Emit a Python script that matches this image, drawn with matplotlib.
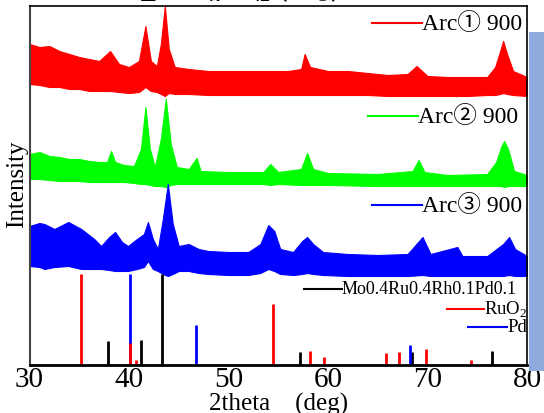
import numpy as np
import matplotlib.pyplot as plt
from matplotlib.lines import Line2D
from matplotlib.patches import Rectangle

plt.rcParams['font.family'] = ['Liberation Serif', 'Noto Sans CJK SC', 'DejaVu Sans']
plt.rcParams['mathtext.fontset'] = 'custom'
plt.rcParams['mathtext.rm'] = 'Liberation Serif'

# XRD traces: 2theta, upper and lower edge of the noisy band
# (intensity in arbitrary units, traces already offset)
arc1_x = [30, 31, 32, 33, 34, 35, 36, 37, 38.1, 39, 40, 41, 41.65, 42.2, 42.8, 43.2, 43.6,
          44.0, 44.6, 46, 48, 50, 52, 54, 56, 57.3, 57.65, 58.2, 60, 62, 64, 66, 68, 68.9,
          70, 72, 74, 76, 76.8, 77.3, 77.6, 78.0, 78.6, 80]
arc1_hi = [323, 320, 321, 316, 313, 310, 308, 306, 316, 303, 300, 306, 341, 306, 301, 323, 361,
           318, 300, 298, 296, 296, 296, 296, 296, 298, 313, 300, 296, 296, 294, 292, 293, 301,
           291, 290, 290, 290, 300, 316, 326, 313, 296, 290]
arc1_lo = [283, 282, 280, 280, 278, 278, 276, 276, 276, 275, 274, 275, 280, 276, 275, 273, 271,
           274, 273, 273, 272, 272, 272, 272, 272, 272, 272, 272, 272, 272, 272, 271, 271, 271,
           271, 271, 271, 272, 272, 273, 274, 273, 272, 271]

arc2_x = [30, 31, 32, 33, 34, 35, 36, 37, 37.8, 38.2, 38.6, 39.5, 40.5, 41.2, 41.65, 42.1, 42.6,
          43.2, 43.7, 44.2, 44.8, 46, 46.8, 47.2, 50, 53.5, 54.2, 55, 57.3, 57.9, 58.5, 60, 65,
          68.5, 69.1, 69.7, 72, 76, 76.9, 77.4, 77.7, 78.1, 78.7, 80]
arc2_hi = [213, 215, 211, 210, 208, 208, 206, 205, 205, 216, 205, 202, 201, 218, 260, 218, 200,
           228, 268, 223, 200, 198, 209, 196, 195, 195, 203, 195, 198, 214, 198, 194, 193,
           196, 207, 195, 192, 193, 205, 220, 226, 218, 196, 192]
arc2_lo = [188, 188, 187, 186, 186, 186, 185, 185, 185, 185, 185, 185, 184, 183, 183, 182, 181,
           181, 180, 182, 183, 183, 183, 183, 183, 183, 182, 183, 182, 182, 182, 182, 181,
           181, 181, 181, 181, 181, 181, 181, 180, 181, 181, 181]

arc3_x = [30, 31, 31.5, 32.5, 33.9, 35.2, 36.5, 37.2, 38.0, 38.6, 39.3, 39.9, 40.8, 41.5, 41.9,
          42.4, 42.9, 43.4, 43.9, 44.4, 45, 46, 47, 48, 50, 52, 53.2, 54.0, 54.6, 55.2, 56.5,
          57.4, 57.9, 58.5, 59.5, 62, 65, 68, 69.5, 70.3, 73, 73.5, 76, 77.6, 78.2, 78.8, 80]
arc3_hi = [141, 144, 143, 138, 145, 138, 128, 121, 130, 135, 125, 121, 128, 133, 145,
           128, 118, 148, 183, 143, 121, 123, 118, 116, 115, 115, 123, 142, 136, 118, 115,
           126, 130, 123, 115, 113, 112, 113, 130, 113, 120, 111, 111, 123, 130, 118, 111]
arc3_lo = [101, 100, 98, 100, 101, 98, 98, 98, 97, 96, 96, 96, 98, 100, 106,
           98, 96, 93, 91, 93, 96, 96, 94, 93, 92, 92, 94, 98, 96, 93, 92,
           93, 94, 93, 92, 91, 91, 91, 92, 91, 91, 91, 91, 91, 92, 91, 91]

# reference patterns (peak position, relative height)
alloy_pos = [37.9, 41.18, 43.3, 57.2, 68.47, 76.53]
alloy_int = [26.4, 27, 92.7, 14.6, 15.3, 15.6]
ruo2_pos = [35.16, 40.1, 40.68, 54.5, 58.17, 59.6, 65.85, 67.17, 69.83, 74.37]
ruo2_int = [92.7, 24, 7, 63, 16, 9.7, 13.9, 14.9, 18.4, 7.3]
pd_pos = [40.1, 46.77, 68.29]
pd_int = [92.7, 42, 21.9]

W, H = 544, 414
fig = plt.figure(figsize=(W / 100, H / 100), dpi=100)
ax = fig.add_axes([29.5 / W, 1 - 366 / H, (527 - 29.5) / W, (366 - 7) / H])


def fx(px):
    return px / W


def fy(py):
    return 1 - py / H


for xs, hi, lo, col in [(arc1_x, arc1_hi, arc1_lo, '#ff0000'),
                        (arc2_x, arc2_hi, arc2_lo, '#00ff00'),
                        (arc3_x, arc3_hi, arc3_lo, '#0000ff')]:
    ax.fill_between(xs, lo, hi, color=col, lw=0.8, edgecolor=col)

ax.vlines(alloy_pos, 0, alloy_int, colors='black', lw=2)
ax.vlines(pd_pos, 0, pd_int, colors='#0000ff', lw=2)
ax.vlines(ruo2_pos, 0, ruo2_int, colors='#ff0000', lw=2)

ax.set_xlim(30, 80)
ax.set_ylim(2, 361)
ax.set_yticks([])
ax.set_xticks([30, 40, 50, 60, 70, 80])
ax.tick_params(axis='x', length=0, labelsize=21, pad=1)
for s in ['top', 'right']:
    ax.spines[s].set_linewidth(1.2)
ax.spines['bottom'].set_linewidth(2)
ax.spines['left'].set_color('#444444')
ax.spines['left'].set_linewidth(1.5)

fig.text(fx(279), fy(404), '2theta\u3000(deg)', fontsize=18, ha='center', va='center')
fig.text(fx(17), fy(184), 'Intensity', fontsize=18, rotation=90, ha='center', va='center')

# hand-placed legend labels
labels = [('Arc\u2460 900', '#ff0000', 372, 422, 24, 17),
          ('Arc\u2461 900', '#00ff00', 368, 418, 117, 17),
          ('Arc\u2462 900', '#0000ff', 372, 422, 206, 17),
          ('Mo0.4Ru0.4Rh0.1Pd0.1', 'black', 304, 342, 290, 13),
          ('RuO$_2$', '#ff0000', 447, 484, 310, 13.5),
          ('Pd', '#0000ff', 468, 507, 328, 13.5)]
for txt, col, x0, x1, py, fs in labels:
    fig.add_artist(Line2D([fx(x0), fx(x1)], [fy(py), fy(py)], color=col, lw=1.5))
    fig.text(fx(x1), fy(py), txt, fontsize=fs, ha='left', va='center')

# cropped caption and side bar from the screenshot
fig.text(fx(244), fy(-5), '图\u3000SEM像200倍（Arc\u2462）', fontsize=12, fontweight='bold',
         ha='center', va='center', family=['Noto Sans CJK SC', 'DejaVu Sans'])
fig.add_artist(Rectangle((fx(529), fy(372)), fx(15), (372 - 33) / H, color='#8faadc', lw=0))

fig.savefig('out.png', dpi=100)
